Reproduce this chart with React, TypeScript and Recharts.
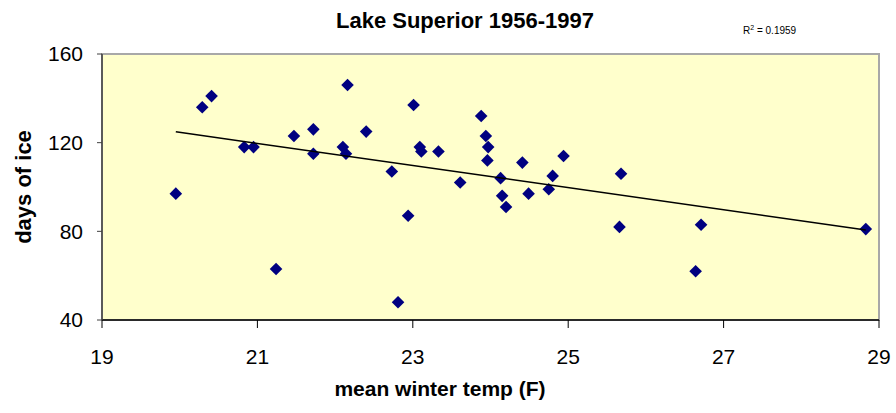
import React from 'react';
import { ScatterChart, Scatter, XAxis, YAxis, ReferenceArea } from 'recharts';

// mean winter temp (F) and days of ice, one entry per year
const temps = [
  19.95, 20.29, 20.41, 20.83, 20.95, 21.24, 21.47, 21.72, 21.72, 22.10,
  22.14, 22.16, 22.40, 22.73, 22.81, 22.94, 23.01, 23.09, 23.11, 23.33,
  23.61, 23.88, 23.94, 23.97, 23.96, 24.13, 24.15, 24.20, 24.41, 24.49,
  24.75, 24.80, 24.94, 25.68, 25.66, 26.64, 26.71, 28.83,
];
const iceDays = [
  97, 136, 141, 118, 118, 63, 123, 126, 115, 118,
  115, 146, 125, 107, 48, 87, 137, 118, 116, 116,
  102, 132, 123, 118, 112, 104, 96, 91, 111, 97,
  99, 105, 114, 106, 82, 62, 83, 81,
];

// trendline end points
const trendTemps = [19.95, 28.83];
const trendDays = [124.9, 80.6];

const xTicks = [19, 21, 23, 25, 27, 29];
const yTicks = [40, 80, 120, 160];

const points = temps.map((t, i) => ({ temp: t, days: iceDays[i] }));
const trend = trendTemps.map((t, i) => ({ temp: t, days: trendDays[i] }));

const FONT = '"Liberation Sans", Arial, sans-serif';

const Diamond = (props: any) => {
  const { cx, cy } = props;
  const r = 6.3;
  return (
    <polygon
      points={`${cx},${cy - r} ${cx + r},${cy} ${cx},${cy + r} ${cx - r},${cy}`}
      fill="#000080"
    />
  );
};

const NoDot = () => <g />;

export default function App() {
  return (
    <div style={{ position: 'absolute', left: 0, top: 0, width: 896, height: 413, background: '#fff' }}>
      <ScatterChart
        width={896}
        height={413}
        margin={{ top: 54, right: 17, bottom: 53, left: 42 }}
        style={{ fontFamily: FONT }}
      >
        <ReferenceArea x1={19} x2={29} y1={40} y2={160} fill="#FFFFCC" fillOpacity={1} stroke="#a8a8a8" strokeWidth={2} />
        <XAxis
          type="number"
          dataKey="temp"
          domain={[19, 29]}
          ticks={xTicks}
          height={40}
          tickSize={8}
          tickMargin={21}
          axisLine={{ stroke: '#000', strokeWidth: 1.5 }}
          tickLine={{ stroke: '#000' }}
          tick={{ fill: '#000', fontSize: 21, fontFamily: FONT }}
          allowDataOverflow
        />
        <YAxis
          type="number"
          dataKey="days"
          domain={[40, 160]}
          ticks={yTicks}
          width={60}
          tickSize={5}
          tickMargin={14}
          axisLine={{ stroke: '#404040', strokeWidth: 1.5 }}
          tickLine={{ stroke: '#404040' }}
          tick={{ fill: '#000', fontSize: 21, fontFamily: FONT }}
          allowDataOverflow
        />
        <Scatter data={points} shape={<Diamond />} isAnimationActive={false} />
        <Scatter
          data={trend}
          line={{ stroke: '#000', strokeWidth: 1.5 }}
          shape={<NoDot />}
          isAnimationActive={false}
        />
        <text x={465} y={28} textAnchor="middle" fontSize={22} fontWeight="bold" fontFamily={FONT} fill="#000">
          Lake Superior 1956-1997
        </text>
        <text x={743} y={34} fontSize={10} fontFamily={FONT} fill="#000">
          R<tspan dy={-4} fontSize={7}>2</tspan><tspan dy={4}> = 0.1959</tspan>
        </text>
        <text x={440} y={396} textAnchor="middle" fontSize={21} fontWeight="bold" fontFamily={FONT} fill="#000">
          mean winter temp (F)
        </text>
        <text
          x={0}
          y={0}
          transform="translate(31,187) rotate(-90)"
          textAnchor="middle"
          fontSize={22}
          fontWeight="bold"
          fontFamily={FONT}
          fill="#000"
        >
          days of ice
        </text>
      </ScatterChart>
    </div>
  );
}
